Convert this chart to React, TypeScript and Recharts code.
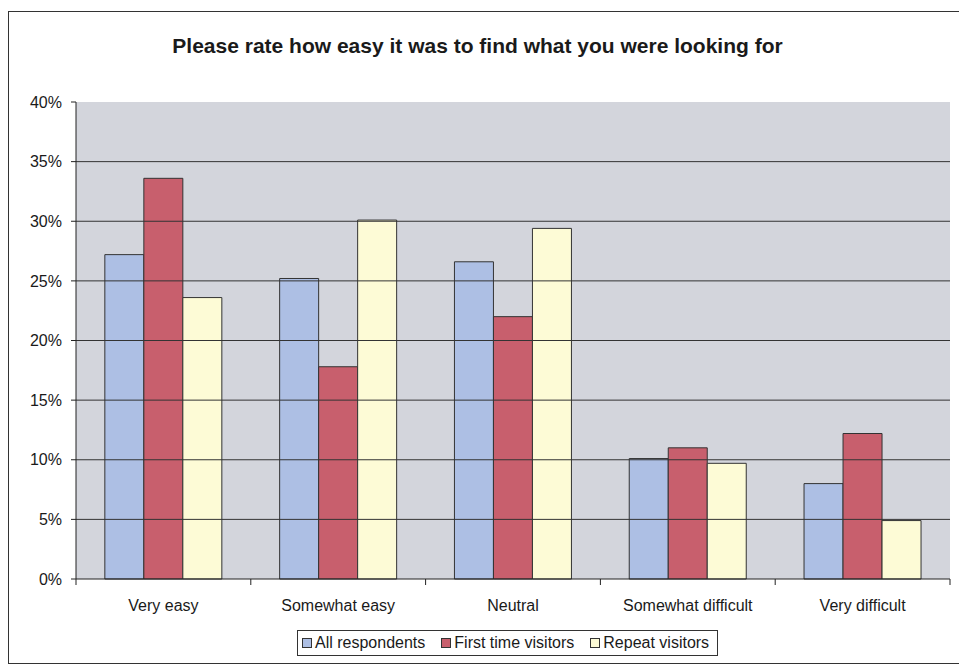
import React from "react";
import { BarChart, Bar, XAxis, YAxis, ReferenceLine, ReferenceArea } from "recharts";

const categories = ["Very easy", "Somewhat easy", "Neutral", "Somewhat difficult", "Very difficult"];
const allRespondents = [27.2, 25.2, 26.6, 10.1, 8.0];
const firstTimeVisitors = [33.6, 17.8, 22.0, 11.0, 12.2];
const repeatVisitors = [23.6, 30.1, 29.4, 9.7, 4.9];
const yTicks = [0, 5, 10, 15, 20, 25, 30, 35, 40];
const gridValues = [5, 10, 15, 20, 25, 30, 35];
const seriesNames = ["All respondents", "First time visitors", "Repeat visitors"];
const seriesColors = ["#adbfe4", "#c85f6d", "#fdfbd6"];

const data = categories.map((c, i) => ({
  name: c,
  all: allRespondents[i],
  first: firstTimeVisitors[i],
  repeat: repeatVisitors[i],
}));

const FONT = '"Liberation Sans", Arial, sans-serif';
const W = 959;
const H = 667;
const MARGIN = { top: 102, right: 9, bottom: 58, left: 16 };
const Y_WIDTH = 60;
const PLOT_W = W - MARGIN.left - MARGIN.right - Y_WIDTH;
const BAND = PLOT_W / categories.length;

const XTick = (props: any) => {
  const { x, y, payload, index } = props;
  const axisY = y;
  return (
    <g>
      <line x1={x - BAND / 2} x2={x - BAND / 2} y1={axisY} y2={axisY + 6} stroke="#222" />
      {index === categories.length - 1 && (
        <line x1={x + BAND / 2} x2={x + BAND / 2} y1={axisY} y2={axisY + 6} stroke="#222" />
      )}
      <text x={x} y={axisY + 32} textAnchor="middle" fontFamily={FONT} fontSize={16} fill="#1a1a1a">
        {payload.value}
      </text>
    </g>
  );
};

const LegendBox = () => (
  <div
    style={{
      position: "absolute",
      left: 297,
      top: 630,
      display: "flex",
      alignItems: "center",
      border: "1px solid #333",
      background: "#fff",
      padding: "3px 8px 3px 4px",
      fontFamily: FONT,
      fontSize: 16,
      color: "#1a1a1a",
      whiteSpace: "nowrap",
    }}
  >
    {seriesNames.map((n, i) => (
      <div key={n} style={{ display: "flex", alignItems: "center", marginRight: i < 2 ? 16 : 0 }}>
        <span
          style={{
            display: "inline-block",
            width: 8,
            height: 8,
            background: seriesColors[i],
            border: "1px solid #333",
            marginRight: 3,
          }}
        />
        <span>{n}</span>
      </div>
    ))}
  </div>
);

export default function App() {
  return (
    <div style={{ position: "fixed", left: 0, top: 0, width: W, height: H, background: "#fff" }}>
      <div
        style={{
          position: "absolute",
          left: 8,
          top: 11,
          width: W,
          height: 653,
          border: "1px solid #333",
          boxSizing: "border-box",
        }}
      />
      <div
        style={{
          position: "absolute",
          left: 0,
          width: W - 4,
          top: 34,
          textAlign: "center",
          fontFamily: FONT,
          fontWeight: "bold",
          fontSize: 21,
          color: "#1a1a1a",
        }}
      >
        Please rate how easy it was to find what you were looking for
      </div>
      <div style={{ position: "absolute", left: 0, top: 0 }}>
        <BarChart width={W} height={H} data={data} margin={MARGIN} barGap={0} barCategoryGap="16.5%">
          <ReferenceArea y1={0} y2={40} fill="#d3d5dc" fillOpacity={1} stroke="none" />
          {gridValues.map((v) => (
            <ReferenceLine key={v} y={v} stroke="#333" strokeWidth={1} />
          ))}
          <XAxis
            dataKey="name"
            axisLine={{ stroke: "#222" }}
            tickLine={false}
            tickSize={0}
            tickMargin={0}
            height={30}
            tick={<XTick />}
            interval={0}
          />
          <YAxis
            domain={[0, 40]}
            ticks={yTicks}
            width={Y_WIDTH}
            tickFormatter={(v: number) => `${v}%`}
            axisLine={{ stroke: "#222" }}
            tickLine={{ stroke: "#222" }}
            tickSize={5}
            tickMargin={9}
            tick={{ fontFamily: FONT, fontSize: 16, fill: "#1a1a1a" }}
            interval={0}
          />
          <Bar dataKey="all" name={seriesNames[0]} fill={seriesColors[0]} stroke="#333" strokeWidth={1} isAnimationActive={false} />
          <Bar dataKey="first" name={seriesNames[1]} fill={seriesColors[1]} stroke="#333" strokeWidth={1} isAnimationActive={false} />
          <Bar dataKey="repeat" name={seriesNames[2]} fill={seriesColors[2]} stroke="#333" strokeWidth={1} isAnimationActive={false} />
        </BarChart>
      </div>
      <LegendBox />
    </div>
  );
}
